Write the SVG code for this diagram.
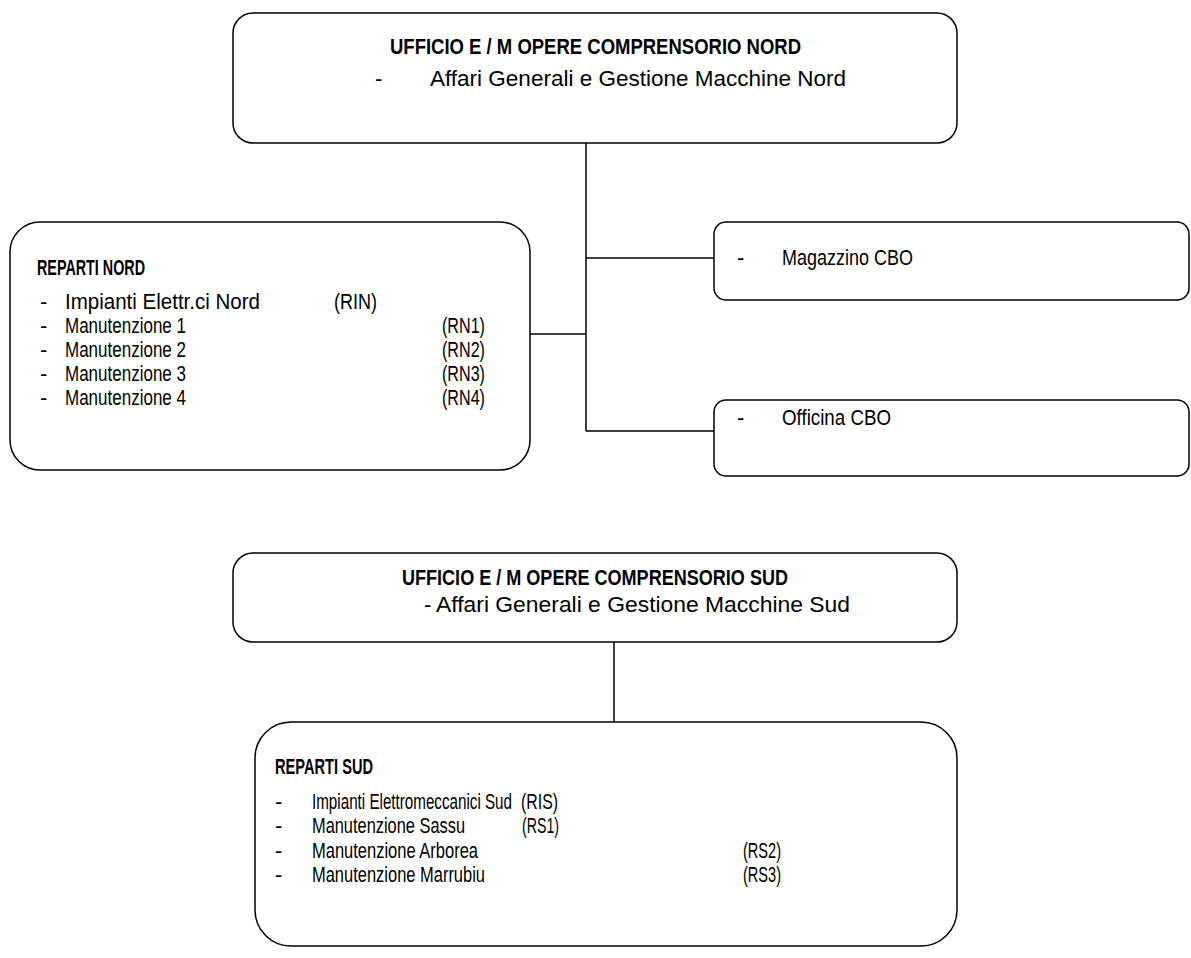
<svg xmlns="http://www.w3.org/2000/svg" width="1191" height="958" viewBox="0 0 1191 958">
<style>
.box{fill:#fff;stroke:#000;stroke-width:1.5}
.ln{stroke:#000;stroke-width:1.5;fill:none}
text{font-family:"Liberation Sans Narrow","Arial Narrow","Liberation Sans",Arial,sans-serif;font-size:22px;fill:#000}
.b{font-weight:bold}
</style>
<rect width="1191" height="958" fill="#fff"/>
<g id="connectors">
<path class="ln" d="M586 143V431M586 258H714M530 334H586M586 431H714"/>
<path class="ln" d="M614 642V722"/>
</g>
<g id="nord">
<rect class="box" x="233" y="13" width="724" height="130" rx="20"/>
<text class="b" x="390" y="54" textLength="411" lengthAdjust="spacingAndGlyphs">UFFICIO E / M OPERE COMPRENSORIO NORD</text>
<text x="375" y="86">-</text><text x="430" y="86" textLength="416" lengthAdjust="spacingAndGlyphs">Affari Generali e Gestione Macchine Nord</text>
</g>
<g id="reparti-nord">
<rect class="box" x="10" y="222" width="520" height="248" rx="30"/>
<text class="b" x="37" y="275" textLength="108" lengthAdjust="spacingAndGlyphs">REPARTI NORD</text>
<text x="40" y="309">-</text><text x="65" y="309" textLength="195" lengthAdjust="spacingAndGlyphs">Impianti Elettr.ci Nord</text><text x="334" y="309" textLength="43" lengthAdjust="spacingAndGlyphs">(RIN)</text>
<text x="40" y="333">-</text><text x="65" y="333" textLength="121" lengthAdjust="spacingAndGlyphs">Manutenzione 1</text><text x="442" y="333" textLength="43" lengthAdjust="spacingAndGlyphs">(RN1)</text>
<text x="40" y="357">-</text><text x="65" y="357" textLength="121" lengthAdjust="spacingAndGlyphs">Manutenzione 2</text><text x="442" y="357" textLength="43" lengthAdjust="spacingAndGlyphs">(RN2)</text>
<text x="40" y="381">-</text><text x="65" y="381" textLength="121" lengthAdjust="spacingAndGlyphs">Manutenzione 3</text><text x="442" y="381" textLength="43" lengthAdjust="spacingAndGlyphs">(RN3)</text>
<text x="40" y="405">-</text><text x="65" y="405" textLength="121" lengthAdjust="spacingAndGlyphs">Manutenzione 4</text><text x="442" y="405" textLength="43" lengthAdjust="spacingAndGlyphs">(RN4)</text>
</g>
<g id="magazzino">
<rect class="box" x="714" y="222" width="475" height="78" rx="12"/>
<text x="737" y="265">-</text><text x="782" y="265" textLength="131" lengthAdjust="spacingAndGlyphs">Magazzino CBO</text>
</g>
<g id="officina">
<rect class="box" x="714" y="400" width="475" height="76" rx="12"/>
<text x="737" y="425">-</text><text x="782" y="425" textLength="109" lengthAdjust="spacingAndGlyphs">Officina CBO</text>
</g>
<g id="sud">
<rect class="box" x="233" y="553" width="724" height="89" rx="20"/>
<text class="b" x="402" y="585" textLength="386" lengthAdjust="spacingAndGlyphs">UFFICIO E / M OPERE COMPRENSORIO SUD</text>
<text x="424" y="612">-</text><text x="436" y="612" textLength="414" lengthAdjust="spacingAndGlyphs">Affari Generali e Gestione Macchine Sud</text>
</g>
<g id="reparti-sud">
<rect class="box" x="255" y="722" width="702" height="224" rx="36"/>
<text class="b" x="275" y="774" textLength="98" lengthAdjust="spacingAndGlyphs">REPARTI SUD</text>
<text x="275" y="809">-</text><text x="312" y="809" textLength="200" lengthAdjust="spacingAndGlyphs">Impianti Elettromeccanici Sud</text><text x="521" y="809" textLength="37" lengthAdjust="spacingAndGlyphs">(RIS)</text>
<text x="275" y="833">-</text><text x="312" y="833" textLength="153" lengthAdjust="spacingAndGlyphs">Manutenzione Sassu</text><text x="522" y="833" textLength="37" lengthAdjust="spacingAndGlyphs">(RS1)</text>
<text x="275" y="858">-</text><text x="312" y="858" textLength="166" lengthAdjust="spacingAndGlyphs">Manutenzione Arborea</text><text x="743" y="858" textLength="38" lengthAdjust="spacingAndGlyphs">(RS2)</text>
<text x="275" y="882">-</text><text x="312" y="882" textLength="173" lengthAdjust="spacingAndGlyphs">Manutenzione Marrubiu</text><text x="743" y="882" textLength="38" lengthAdjust="spacingAndGlyphs">(RS3)</text>
</g>
</svg>
